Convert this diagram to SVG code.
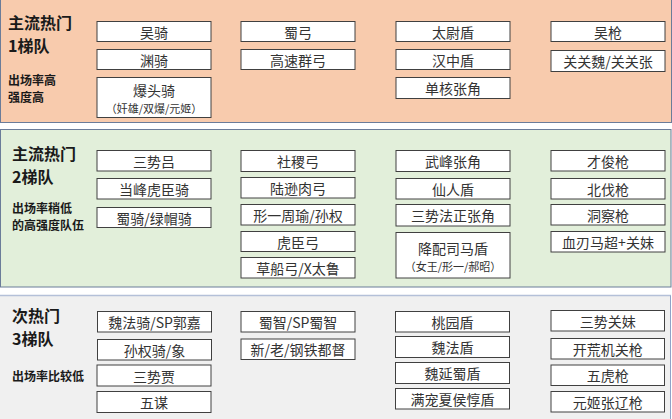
<svg xmlns="http://www.w3.org/2000/svg" width="672" height="419" viewBox="0 0 672 419">
<style>
.bx{fill:#ffffff;stroke:#404040;stroke-width:1}
.t{font-family:"Noto Sans CJK SC","Liberation Sans",sans-serif;font-size:14px;fill:#333333;text-anchor:middle;dominant-baseline:central}
.s{font-family:"Noto Sans CJK SC","Liberation Sans",sans-serif;font-size:11px;fill:#333333;text-anchor:middle;dominant-baseline:central}
.h{font-family:"Noto Sans CJK SC","Liberation Sans",sans-serif;font-size:16px;font-weight:bold;fill:#1a1a1a}
.l{font-family:"Noto Sans CJK SC","Liberation Sans",sans-serif;font-size:12px;font-weight:bold;fill:#1a1a1a}
</style>
<rect width="672" height="419" fill="#ffffff"/>
<g id="panel1">
<rect x="0.5" y="-1" width="671" height="123.5" fill="#f8cbad" stroke="#6b7c99"/>
<text class="h" x="8" y="29">主流热门</text>
<text class="h" x="8" y="52">1梯队</text>
<text class="l" x="8" y="85">出场率高</text>
<text class="l" x="8" y="102">强度高</text>
</g>
<g id="panel2">
<rect x="0.5" y="129.5" width="670.5" height="157.5" fill="#e2efda" stroke="#6b7c99"/>
<text class="h" x="12" y="160">主流热门</text>
<text class="h" x="12" y="183">2梯队</text>
<text class="l" x="12" y="213">出场率稍低</text>
<text class="l" x="12" y="230">的高强度队伍</text>
</g>
<g id="panel3">
<rect x="0" y="295.5" width="670.5" height="124" fill="#f0f0f0"/>
<line x1="0" y1="295.5" x2="671" y2="295.5" stroke="#b4c0d8" stroke-width="1.5"/>
<line x1="670.5" y1="295.5" x2="670.5" y2="419" stroke="#8fa2c8"/>
<text class="h" x="12" y="322">次热门</text>
<text class="h" x="12" y="345">3梯队</text>
<text class="l" x="12" y="381">出场率比较低</text>
</g>
<g id="connectors"/>
<!-- Tier 1 -->
<g id="n-wuqi"><rect class="bx" x="97" y="21.5" width="114" height="20"/><text class="t" x="154" y="31.5">吴骑</text></g>
<g id="n-yuanqi"><rect class="bx" x="97" y="49.5" width="114" height="20"/><text class="t" x="154" y="59.5">渊骑</text></g>
<g id="n-baotouqi"><rect class="bx" x="97" y="77.5" width="114" height="40"/><text class="t" x="154" y="90">爆头骑</text><text class="s" x="154" y="108">（奸雄/双爆/元姬）</text></g>
<g id="n-shugong"><rect class="bx" x="241" y="21.5" width="114" height="20"/><text class="t" x="298" y="31.5">蜀弓</text></g>
<g id="n-gaosuqungong"><rect class="bx" x="241" y="49.5" width="114" height="20"/><text class="t" x="298" y="59.5">高速群弓</text></g>
<g id="n-taiweidun"><rect class="bx" x="396" y="21.5" width="114" height="20"/><text class="t" x="453" y="31.5">太尉盾</text></g>
<g id="n-hanzhongdun"><rect class="bx" x="396" y="49.5" width="114" height="20"/><text class="t" x="453" y="59.5">汉中盾</text></g>
<g id="n-danhezhangjiao"><rect class="bx" x="396" y="77.5" width="114" height="21"/><text class="t" x="453" y="88">单核张角</text></g>
<g id="n-wuqiang"><rect class="bx" x="551" y="21.5" width="114" height="20"/><text class="t" x="608" y="31.5">吴枪</text></g>
<g id="n-guanguan"><rect class="bx" x="551" y="50.5" width="114" height="21"/><text class="t" x="608" y="61">关关魏/关关张</text></g>
<!-- Tier 2 -->
<g id="n-sanshilv"><rect class="bx" x="97" y="150.5" width="114" height="20.5"/><text class="t" x="154" y="160.75">三势吕</text></g>
<g id="n-dangfeng"><rect class="bx" x="97" y="178.5" width="114" height="20.5"/><text class="t" x="154" y="188.75">当峰虎臣骑</text></g>
<g id="n-shuqi"><rect class="bx" x="97" y="207.5" width="114" height="20"/><text class="t" x="154" y="217.5">蜀骑/绿帽骑</text></g>
<g id="n-shejigong"><rect class="bx" x="241" y="150.5" width="114" height="21"/><text class="t" x="298" y="161">社稷弓</text></g>
<g id="n-luxun"><rect class="bx" x="241" y="177.5" width="114" height="20.5"/><text class="t" x="298" y="187.75">陆逊肉弓</text></g>
<g id="n-xingyi"><rect class="bx" x="241" y="204.5" width="114" height="20.5"/><text class="t" x="298" y="214.75">形一周瑜/孙权</text></g>
<g id="n-huchengong"><rect class="bx" x="241" y="231.5" width="114" height="20"/><text class="t" x="298" y="241.5">虎臣弓</text></g>
<g id="n-caochuan"><rect class="bx" x="241" y="257.5" width="114" height="20.5"/><text class="t" x="298" y="267.75">草船弓/X太鲁</text></g>
<g id="n-wufeng"><rect class="bx" x="396" y="150.5" width="114" height="21"/><text class="t" x="453" y="161">武峰张角</text></g>
<g id="n-xianren"><rect class="bx" x="396" y="178.5" width="114" height="20.5"/><text class="t" x="453" y="188.75">仙人盾</text></g>
<g id="n-sanshifazheng"><rect class="bx" x="396" y="204.5" width="114" height="21.5"/><text class="t" x="453" y="215.25">三势法正张角</text></g>
<g id="n-jiangpei"><rect class="bx" x="396" y="232.5" width="114" height="45.5"/><text class="t" x="453" y="248">降配司马盾</text><text class="s" x="453" y="266">（女王/形一/郝昭）</text></g>
<g id="n-caijun"><rect class="bx" x="551" y="150.5" width="114" height="20.5"/><text class="t" x="608" y="160.75">才俊枪</text></g>
<g id="n-beifa"><rect class="bx" x="551" y="178.5" width="114" height="20.5"/><text class="t" x="608" y="188.75">北伐枪</text></g>
<g id="n-dongcha"><rect class="bx" x="551" y="204.5" width="114" height="20.5"/><text class="t" x="608" y="214.75">洞察枪</text></g>
<g id="n-xueren"><rect class="bx" x="551" y="231.5" width="114" height="20.5"/><text class="t" x="608" y="241.75">血刃马超+关妹</text></g>
<!-- Tier 3 -->
<g id="n-weifaqi"><rect class="bx" x="97.5" y="311.5" width="114" height="20.5"/><text class="t" x="154.5" y="321.75">魏法骑/SP郭嘉</text></g>
<g id="n-sunquanqi"><rect class="bx" x="97.5" y="339.5" width="114" height="20.5"/><text class="t" x="154.5" y="349.75">孙权骑/象</text></g>
<g id="n-sanshijia"><rect class="bx" x="97" y="365" width="114" height="21"/><text class="t" x="154" y="375.5">三势贾</text></g>
<g id="n-wumou"><rect class="bx" x="97" y="391.5" width="114" height="21"/><text class="t" x="154" y="402">五谋</text></g>
<g id="n-shuzhi"><rect class="bx" x="241" y="311.5" width="114" height="20.5"/><text class="t" x="298" y="321.75">蜀智/SP蜀智</text></g>
<g id="n-dudu"><rect class="bx" x="241" y="339" width="114" height="20.5"/><text class="t" x="298" y="349.25">新/老/钢铁都督</text></g>
<g id="n-taoyuan"><rect class="bx" x="395.5" y="311.5" width="114" height="20.5"/><text class="t" x="452.5" y="321.75">桃园盾</text></g>
<g id="n-weifadun"><rect class="bx" x="395.5" y="336.5" width="114" height="21"/><text class="t" x="452.5" y="347">魏法盾</text></g>
<g id="n-weiyan"><rect class="bx" x="395.5" y="362.5" width="114" height="21"/><text class="t" x="452.5" y="373">魏延蜀盾</text></g>
<g id="n-manchong"><rect class="bx" x="395.5" y="388.5" width="114" height="20.5"/><text class="t" x="452.5" y="398.75">满宠夏侯惇盾</text></g>
<g id="n-sanshiguanmei"><rect class="bx" x="551" y="310.5" width="113.5" height="20.5"/><text class="t" x="607.75" y="320.75">三势关妹</text></g>
<g id="n-kaihuang"><rect class="bx" x="551" y="338.5" width="113.5" height="20.5"/><text class="t" x="607.75" y="348.75">开荒机关枪</text></g>
<g id="n-wuhu"><rect class="bx" x="551" y="365" width="113.5" height="20.5"/><text class="t" x="607.75" y="375.25">五虎枪</text></g>
<g id="n-yuanji"><rect class="bx" x="551" y="391.5" width="113.5" height="20.5"/><text class="t" x="607.75" y="401.75">元姬张辽枪</text></g>
</svg>
